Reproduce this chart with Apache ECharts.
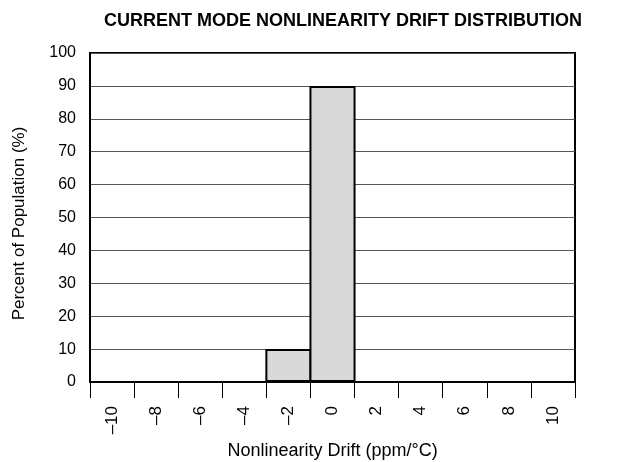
<!DOCTYPE html>
<html>
<head>
<meta charset="utf-8">
<script src="https://cdn.jsdelivr.net/npm/echarts@6/dist/echarts.min.js"></script>
<style>
  html, body { margin: 0; padding: 0; background: #fff; }
  #chart { width: 623px; height: 462px; }
</style>
</head>
<body>
<div id="chart"></div>
<script>
// Drift bins (ppm/°C) and share of population in each bin (%)
const driftBins = ['–10', '–8', '–6', '–4', '–2', '0', '2', '4', '6', '8', '10'];
const populationPct = [0, 0, 0, 0, 10, 90, 0, 0, 0, 0, 0];
const yTicks = { min: 0, max: 100, step: 10 };

const FONT = '"Liberation Sans", Arial, sans-serif';
const GRID = { left: 90, right: 48, top: 53, bottom: 80 };
const CHART_W = 623;
const BORDER = 2;
// ECharts insets bar borders; widen each bar by one border so neighbours share a single edge
const bandWidth = (CHART_W - GRID.left - GRID.right) / driftBins.length;

const chart = echarts.init(document.getElementById('chart'), null, { renderer: 'canvas' });

chart.setOption({
  animation: false,
  backgroundColor: '#ffffff',
  title: {
    text: 'CURRENT MODE NONLINEARITY DRIFT DISTRIBUTION',
    left: 338,
    top: 7,
    textAlign: 'center',
    textStyle: { fontFamily: FONT, fontSize: 18, fontWeight: 'bold', color: '#000' }
  },
  grid: Object.assign({}, GRID, {
    outerBoundsMode: 'none',
    containLabel: false,
    show: true, borderColor: '#000', borderWidth: 2, backgroundColor: 'transparent'
  }),
  xAxis: {
    type: 'category',
    data: driftBins,
    boundaryGap: true,
    name: 'Nonlinearity Drift (ppm/°C)',
    nameLocation: 'middle',
    nameGap: 56,
    nameTextStyle: { fontFamily: FONT, fontSize: 18, color: '#000' },
    axisLine: { show: true, lineStyle: { color: '#000', width: 2 } },
    axisTick: { show: true, alignWithLabel: false, length: 16, lineStyle: { color: '#000', width: 1 } },
    axisLabel: { rotate: 90, margin: 24, fontFamily: FONT, fontSize: 17, color: '#000' },
    splitLine: { show: false }
  },
  yAxis: {
    type: 'value',
    min: yTicks.min,
    max: yTicks.max,
    interval: yTicks.step,
    name: 'Percent of Population (%)',
    nameLocation: 'middle',
    nameGap: 62,
    nameTextStyle: { fontFamily: FONT, fontSize: 17, color: '#000', padding: [0, 12, 0, 0] },
    axisLine: { show: true, lineStyle: { color: '#000', width: 2 } },
    axisTick: { show: false },
    axisLabel: { margin: 14, fontFamily: FONT, fontSize: 16, color: '#000' },
    splitLine: { show: true, lineStyle: { color: '#555', width: 1 } }
  },
  series: [{
    type: 'bar',
    data: populationPct,
    barWidth: bandWidth + BORDER,
    itemStyle: { color: '#d9d9d9', borderColor: '#000', borderWidth: BORDER }
  }]
});
</script>
</body>
</html>
